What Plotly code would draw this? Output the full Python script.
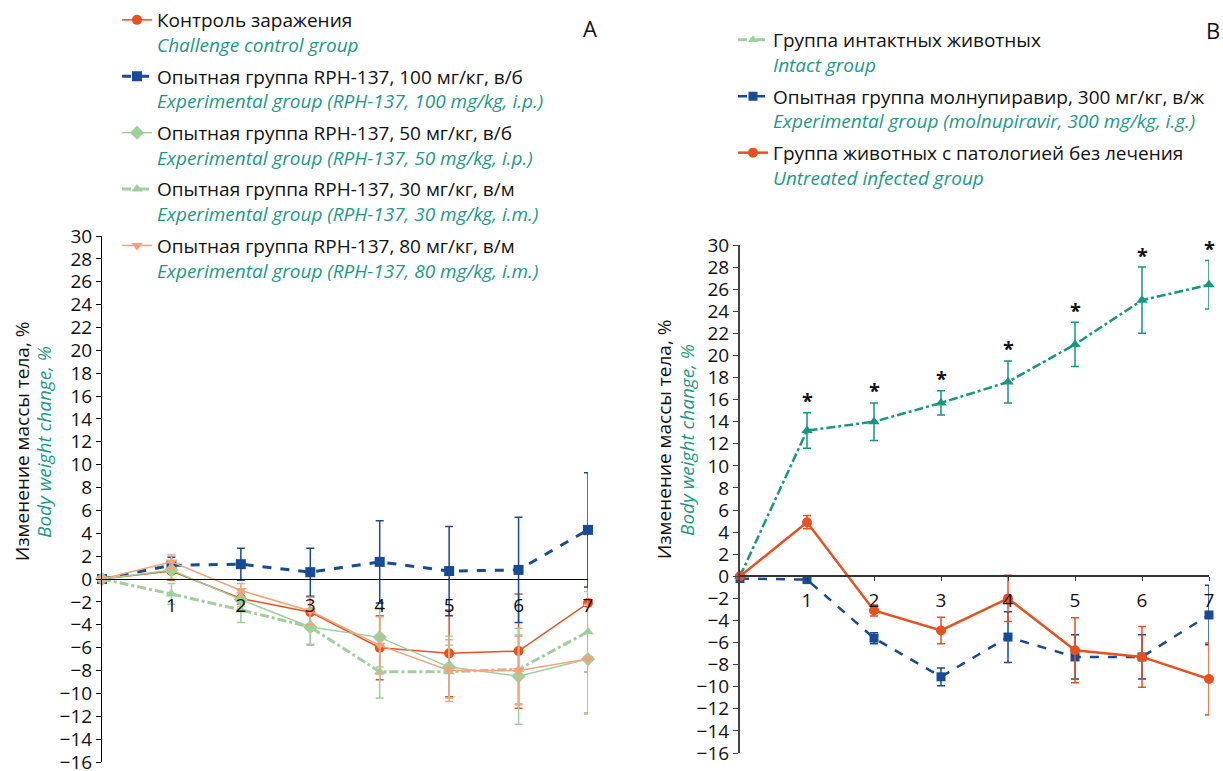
import plotly.graph_objects as go

W, H = 1223, 771
FONT = "Open Sans"
TEAL_TXT = "#1a9a84"

days = [0, 1, 2, 3, 4, 5, 6, 7]
x_ticks = [1, 2, 3, 4, 5, 6, 7]
y_ticks = list(range(-16, 31, 2))

# ---- Panel A ----
a_control = [0, 0.7, -1.7, -2.9, -6.0, -6.5, -6.3, -2.1]
a_control_err = [0, 0.8, 0.5, 1.3, 2.8, 3.8, 5.0, 6.0]
a_100 = [0, 1.2, 1.3, 0.6, 1.5, 0.7, 0.8, 4.3]
a_100_err = [0, 0.7, 1.4, 2.1, 3.6, 3.9, 4.6, 5.0]
a_50 = [0, 0.8, -1.8, -4.2, -5.1, -7.7, -8.5, -7.0]
a_50_err = [0, 0.8, 0.6, 1.5, 2.6, 2.7, 4.2, 4.7]
a_30 = [0, -1.3, -2.7, -4.2, -8.1, -8.1, -7.9, -4.6]
a_30_err = [0, 0.9, 1.1, 1.6, 2.3, 2.3, 3.0, 3.5]
a_80 = [0, 1.5, -1.0, -2.8, -5.8, -8.0, -8.0, -7.0]
a_80_err = [0, 0.6, 0.6, 1.2, 2.5, 2.7, 3.0, 4.8]

# ---- Panel B ----
b_intact = [0, 13.2, 14.0, 15.7, 17.6, 21.0, 25.0, 26.4]
b_intact_err = [0, 1.6, 1.7, 1.1, 1.9, 2.0, 3.0, 2.2]
b_moln = [-0.2, -0.3, -5.6, -9.1, -5.5, -7.3, -7.3, -3.5]
b_moln_err = [0, 0.3, 0.5, 0.8, 2.3, 2.0, 2.0, 2.7]
b_untr = [0, 4.9, -3.1, -4.9, -2.0, -6.7, -7.3, -9.3]
b_untr_err = [0, 0.6, 0.5, 1.2, 2.1, 2.95, 2.75, 3.25]

names_a = [
    ("Контроль заражения", "Challenge control group"),
    ("Опытная группа RPH-137, 100 мг/кг, в/б", "Experimental group (RPH-137, 100 mg/kg, i.p.)"),
    ("Опытная группа RPH-137, 50 мг/кг, в/б", "Experimental group (RPH-137, 50 mg/kg, i.p.)"),
    ("Опытная группа RPH-137, 30 мг/кг, в/м", "Experimental group (RPH-137, 30 mg/kg, i.m.)"),
    ("Опытная группа RPH-137, 80 мг/кг, в/м", "Experimental group (RPH-137, 80 mg/kg, i.m.)"),
]
names_b = [
    ("Группа интактных животных", "Intact group"),
    ("Опытная группа молнупиравир, 300 мг/кг, в/ж", "Experimental group (molnupiravir, 300 mg/kg, i.g.)"),
    ("Группа животных с патологией без лечения", "Untreated infected group"),
]


def lbl(pair):
    return f"{pair[0]}<br><span style='color:{TEAL_TXT}'><i>{pair[1]}</i></span>"


ORANGE = "#e8501e"
BLUE = "#174a97"
LGREEN = "#9fd09c"
SALMON = "#f4a27c"
TEAL = "#17977f"

fig = go.Figure()


def add(x, y, err, color, dash, width, symbol, msize, name, xa, ya, legend, group, show=True):
    fig.add_trace(go.Scatter(
        x=x, y=y, mode="lines+markers", name=name,
        line=dict(color=color, dash=dash, width=width),
        marker=dict(symbol=symbol, size=msize, color=color),
        error_y=dict(type="data", array=err, visible=True, color=color,
                     thickness=1.5, width=4),
        xaxis=xa, yaxis=ya, legend=legend, legendgroup=group, showlegend=show,
        cliponaxis=False,
    ))


# Panel A traces
add(days, a_control, a_control_err, ORANGE, "solid", 1.5, "circle", 10, lbl(names_a[0]), "x", "y", "legend", "a1")
add(days, a_100, a_100_err, BLUE, "dash", 3, "square", 10, lbl(names_a[1]), "x", "y", "legend", "a2")
add(days, a_50, a_50_err, LGREEN, "solid", 1.5, "diamond", 11, lbl(names_a[2]), "x", "y", "legend", "a3")
add(days, a_30, a_30_err, LGREEN, "dashdot", 3, "triangle-up", 10, lbl(names_a[3]), "x", "y", "legend", "a4")
add(days, a_80, a_80_err, SALMON, "solid", 1.5, "triangle-down", 10, lbl(names_a[4]), "x", "y", "legend", "a5")

# Panel B traces
add(days, b_intact, b_intact_err, TEAL, "dashdot", 2.5, "triangle-up", 10, lbl(names_b[0]), "x2", "y2", "legend2", "b1", show=False)
fig.add_trace(go.Scatter(x=[None], y=[None], mode="lines+markers", name=lbl(names_b[0]),
                         line=dict(color=LGREEN, dash="dashdot", width=3),
                         marker=dict(symbol="triangle-up", size=9, color=LGREEN),
                         xaxis="x2", yaxis="y2", legend="legend2", legendgroup="b1"))
add(days, b_moln, b_moln_err, BLUE, "dash", 2.5, "square", 9, lbl(names_b[1]), "x2", "y2", "legend2", "b2")
add(days, b_untr, b_untr_err, ORANGE, "solid", 2.5, "circle", 10, lbl(names_b[2]), "x2", "y2", "legend2", "b3")


def px(xp):
    return xp / W


def py(yp):
    return 1 - yp / H


domA_x = [px(102), px(588)]
domA_y = [py(762), py(236)]
domB_x = [px(740), px(1209)]
domB_y = [py(753), py(245)]
YR = [-16, 30]


def zero_pos(dom):
    return dom[0] + (0 - YR[0]) / (YR[1] - YR[0]) * (dom[1] - dom[0])


tickfont = dict(family=FONT, size=19, color="#111")
LEG_FS = 19

fig.update_layout(
    width=W, height=H, margin=dict(l=0, r=0, t=0, b=0, autoexpand=False),
    paper_bgcolor="white", plot_bgcolor="white",
    font=dict(family=FONT, size=17, color="#111"),
    xaxis=dict(domain=domA_x, range=[0, 7], anchor="free", position=zero_pos(domA_y),
               tickvals=x_ticks, showline=True, linecolor="black", linewidth=1,
               ticks="", showgrid=False, zeroline=False, tickfont=tickfont,
               ticklabelstandoff=9, automargin=False, ticklabeloverflow="allow"),
    yaxis=dict(domain=domA_y, range=YR, anchor="x", tickvals=y_ticks,
               showline=True, linecolor="black", linewidth=1, ticks="outside",
               ticklen=5, tickcolor="black", showgrid=False, zeroline=False, tickfont=tickfont,
               automargin=False, ticklabeloverflow="allow"),
    xaxis2=dict(domain=domB_x, range=[0, 7], anchor="free", position=zero_pos(domB_y),
                tickvals=x_ticks, showline=True, linecolor="#333", linewidth=2,
                ticks="outside", ticklen=4, tickcolor="#333", showgrid=False, zeroline=False,
                tickfont=tickfont, ticklabelstandoff=3, automargin=False, ticklabeloverflow="allow"),
    yaxis2=dict(domain=domB_y, range=YR, anchor="x2", tickvals=y_ticks,
                showline=True, linecolor="#444", linewidth=2, ticks="outside",
                ticklen=5, tickcolor="#444", showgrid=False, zeroline=False, tickfont=tickfont,
                automargin=False, ticklabeloverflow="allow"),
    legend=dict(x=px(117), y=py(1), xanchor="left", yanchor="top", bgcolor="rgba(0,0,0,0)",
                tracegroupgap=4, valign="top", font=dict(family=FONT, size=LEG_FS, color="#111")),
    legend2=dict(x=px(733), y=py(21), xanchor="left", yanchor="top", bgcolor="rgba(0,0,0,0)",
                 tracegroupgap=4, valign="top", font=dict(family=FONT, size=LEG_FS, color="#111")),
)

ann = []
for xc1, xc2, yc in [(22, 44, 442), (664, 687, 440)]:
    ann.append(dict(text="Изменение массы тела, %", x=px(xc1), y=py(yc), xref="paper", yref="paper",
                    xanchor="center", yanchor="middle",
                    textangle=-90, showarrow=False, font=dict(family=FONT, size=19, color="#111")))
    ann.append(dict(text="<i>Body weight change, %</i>", x=px(xc2), y=py(yc), xref="paper", yref="paper",
                    xanchor="center", yanchor="middle",
                    textangle=-90, showarrow=False, font=dict(family=FONT, size=19, color=TEAL_TXT)))
ann.append(dict(text="A", x=px(590), y=py(28), xref="paper", yref="paper", showarrow=False,
                xanchor="center", yanchor="middle", font=dict(family=FONT, size=22, color="#111")))
ann.append(dict(text="B", x=px(1213), y=py(30), xref="paper", yref="paper", showarrow=False,
                xanchor="center", yanchor="middle", font=dict(family=FONT, size=22, color="#111")))
for d, v, e in zip(days, b_intact, b_intact_err):
    if d == 0:
        continue
    ann.append(dict(text="<b>*</b>", x=d, y=v + e, xref="x2", yref="y2", showarrow=False,
                    yshift=12, font=dict(family=FONT, size=20, color="#111")))
fig.update_layout(annotations=ann)

fig.write_html("out.html")
